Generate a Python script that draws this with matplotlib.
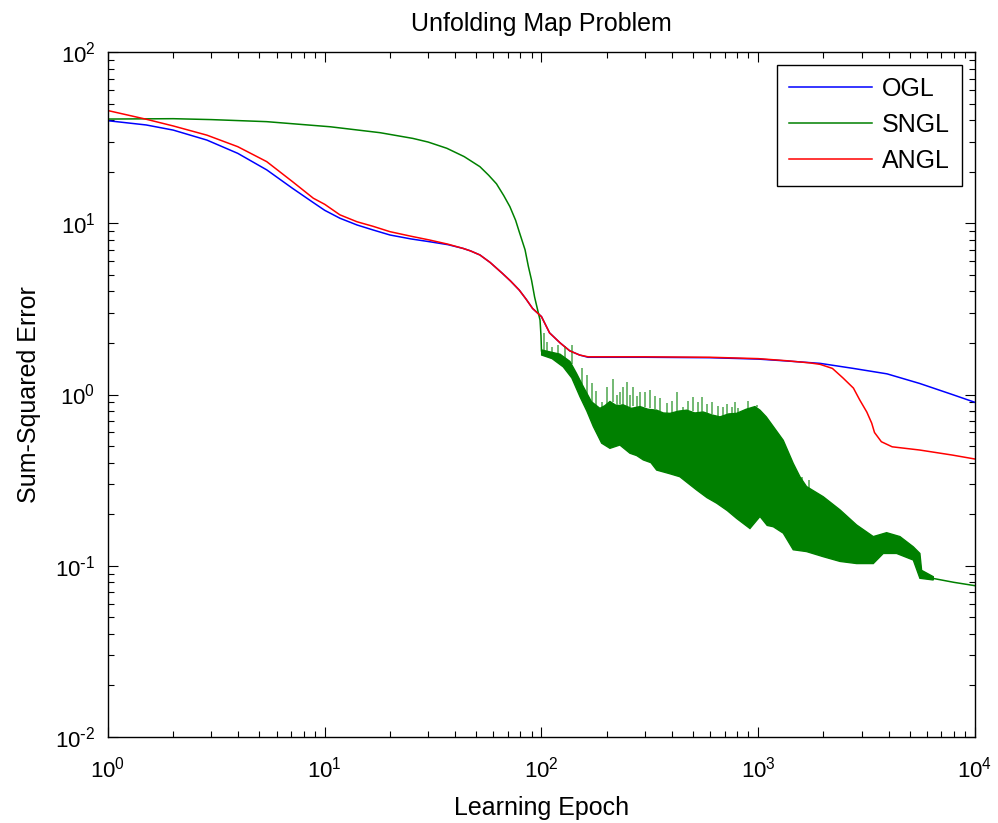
import numpy as np
from matplotlib import pyplot as plt
from matplotlib.ticker import FuncFormatter

# OGL (blue)
ogl_x = [1, 1.5, 2, 2.86, 3.97, 5.4, 7.1, 8.86, 10, 11.75, 14.1, 16.7, 20, 25, 30.5, 37, 43.5,
         47, 52, 58, 66, 72, 79, 85, 91, 100,
         109, 122, 135, 150, 164, 300, 600, 1000, 1350, 1930, 2750, 3930, 5560, 7860, 10000]
ogl_y = [39.7, 37.5, 35.0, 30.6, 25.6, 20.5, 16.0, 13.2, 11.9, 10.7, 9.77, 9.14, 8.54, 8.1, 7.8, 7.5, 7.13,
         6.9, 6.53, 5.9, 5.1, 4.6, 4.07, 3.6, 3.18, 2.85,
         2.29, 2.0, 1.80, 1.70, 1.65, 1.65, 1.64, 1.61, 1.57, 1.52, 1.42, 1.32, 1.16, 1.0, 0.90]

# ANGL (red)
angl_x = [1, 1.5, 2, 2.86, 3.97, 5.4, 7.1, 8.86, 10, 11.75, 14.1, 16.7, 20, 25, 30.5, 37, 43.5,
          47, 52, 58, 66, 72, 79, 85, 91, 100,
          109, 122, 135, 150, 164, 300, 600, 1000, 1350, 1730, 1930, 2200, 2460, 2750, 2940,
          3170, 3340, 3440, 3700, 4150, 5560, 7860, 10000]
angl_y = [45.5, 40.5, 37.0, 32.7, 28.0, 22.9, 17.5, 14.0, 12.9, 11.2, 10.2, 9.6, 8.93, 8.4, 7.98, 7.55, 7.13,
          6.9, 6.53, 5.9, 5.1, 4.6, 4.07, 3.6, 3.18, 2.85,
          2.29, 2.0, 1.80, 1.70, 1.66, 1.66, 1.65, 1.62, 1.575, 1.53, 1.50, 1.42, 1.25, 1.09, 0.93,
          0.79, 0.68, 0.60, 0.53, 0.495, 0.474, 0.443, 0.42]

# SNGL (green): smooth start, noisy band, tail
sngl_x = [1, 2, 3, 5.4, 10.6, 18, 25.5, 30, 36.6, 44, 52, 57, 62, 67, 71.5, 76, 79, 84, 87, 90, 93,
          95, 98.5, 99.5, 100]
sngl_y = [40.6, 40.8, 40.3, 39.2, 36.6, 33.8, 31.3, 29.8, 27.4, 24.5, 21.4, 19.1, 17.0, 14.5, 12.5, 10.4,
          8.9, 7.0, 5.6, 4.65, 3.7, 3.3, 2.72, 2.2, 1.8]

band_up_x = [100.2, 108, 121.7, 135.3, 145, 156, 170, 186, 196, 207, 222, 238, 260, 285, 310, 340, 365,
             392, 430, 468, 510, 558, 610, 666, 730, 795, 880, 966, 1019, 1090, 1174, 1305, 1451, 1560,
             1671, 1995, 2384, 2845, 3396, 3913, 4508, 5194, 5572, 5675, 6425]
band_up_y = [1.82, 1.78, 1.72, 1.56, 1.33, 1.11, 0.908, 0.83, 0.86, 0.91, 0.86, 0.87, 0.83, 0.85, 0.82,
             0.81, 0.78, 0.776, 0.8, 0.81, 0.78, 0.79, 0.76, 0.74, 0.77, 0.776, 0.82, 0.85, 0.81, 0.74,
             0.65, 0.54, 0.396, 0.33, 0.29, 0.253, 0.212, 0.173, 0.148, 0.156, 0.148, 0.129, 0.118,
             0.094, 0.0863]
band_lo_x = [100.2, 112, 126, 138, 150.6, 162, 173.5, 189.5, 207, 230, 256, 275, 295, 320, 340, 390,
             435, 480, 520, 580, 643, 720, 795, 916, 1019, 1100, 1174, 1305, 1451, 1671, 1995, 2384,
             2845, 3396, 3776, 4350, 5194, 5572, 6425]
band_lo_y = [1.70, 1.62, 1.45, 1.25, 0.97, 0.8, 0.65, 0.52, 0.485, 0.507, 0.454, 0.44, 0.415, 0.40, 0.362,
             0.345, 0.331, 0.30, 0.277, 0.25, 0.232, 0.21, 0.189, 0.165, 0.194, 0.172, 0.169, 0.155,
             0.124, 0.121, 0.113, 0.106, 0.103, 0.103, 0.118, 0.118, 0.108, 0.0845, 0.0826]
tail_x = [6425, 8000, 10000]
tail_y = [0.0843, 0.080, 0.0765]

# thin spikes sticking out of the band
spk_x = [103, 105.6, 112, 119.6, 128, 138, 153.3, 162, 170.4, 178, 189.5, 200, 214.5, 222, 230, 238,
         247, 256, 265, 275, 285, 300, 317, 335, 352, 378, 400, 420, 451, 475, 501, 525, 548, 580,
         610, 650, 690, 720, 754, 780, 809, 900, 984, 1592, 1720]
spk_top = [2.3, 2.03, 1.9, 1.94, 1.92, 1.94, 1.42, 1.3, 1.16, 1.05, 0.908, 1.1, 1.24, 1.0, 1.04, 1.1,
           1.19, 1.0, 1.11, 0.98, 1.04, 1.04, 1.06, 0.98, 0.95, 0.89, 0.92, 1.04, 0.85, 0.92, 0.97,
           0.9, 0.97, 0.88, 0.91, 0.86, 0.85, 0.88, 0.85, 0.9, 0.83, 0.92, 0.87, 0.33, 0.317]
spk_base = [1.8, 1.78, 1.76, 1.72, 1.62, 1.5, 1.15, 1.0, 0.91, 0.85, 0.83, 0.88, 0.9, 0.86, 0.88, 0.87,
            0.86, 0.84, 0.86, 0.84, 0.85, 0.84, 0.83, 0.82, 0.8, 0.78, 0.78, 0.79, 0.8, 0.81, 0.8, 0.79,
            0.79, 0.78, 0.77, 0.75, 0.75, 0.76, 0.76, 0.77, 0.78, 0.82, 0.84, 0.28, 0.26]

plt.rcParams['font.family'] = ['Liberation Sans', 'DejaVu Sans']
plt.rcParams['mathtext.default'] = 'regular'

green = (0, 0.5, 0)


def log_label(v, pos):
    e = int(round(np.log10(v)))
    if e < 0:
        return r'$10^{\text{-}%d}$' % (-e)
    return r'$10^{%d}$' % e


fig = plt.figure(figsize=(9.98, 8.23), dpi=100)
ax = fig.add_axes([0.1082, 0.1045, 0.8687, 0.8323])

ax.plot(ogl_x, ogl_y, color='blue', lw=1.1, label='OGL')
ax.plot(sngl_x, sngl_y, color=green, lw=1.1, label='SNGL')
ax.vlines(spk_x, spk_base, spk_top, color=green, lw=1.4, alpha=0.55)
ax.fill(band_up_x + band_lo_x[::-1], band_up_y + band_lo_y[::-1],
        facecolor=green, edgecolor=green, lw=1.0)
ax.plot(tail_x, tail_y, color=green, lw=1.1)
ax.plot(angl_x, angl_y, color='red', lw=1.1, label='ANGL')

ax.set_xscale('log')
ax.set_yscale('log')
ax.set_xlim(1, 1e4)
ax.set_ylim(1e-2, 1e2)
ax.xaxis.set_major_formatter(FuncFormatter(log_label))
ax.yaxis.set_major_formatter(FuncFormatter(log_label))

ax.tick_params(which='both', direction='in', top=True, right=True, labelsize=16)
ax.tick_params(axis='x', which='major', pad=14)
ax.tick_params(axis='y', which='major', pad=9)
ax.tick_params(which='major', length=7.2, width=0.8)
ax.tick_params(which='minor', length=4.3, width=0.8)
for s in ax.spines.values():
    s.set_linewidth(1.0)

ax.set_title('Unfolding Map Problem', fontsize=18, pad=15)
ax.set_xlabel('Learning Epoch', fontsize=18, labelpad=10)
ax.set_ylabel('Sum-Squared Error', fontsize=18, labelpad=10)

leg = ax.legend(loc='upper right', fontsize=18, fancybox=False, framealpha=1,
                edgecolor='black', handlelength=3.3, handletextpad=0.4,
                labelspacing=0.48, borderaxespad=0.5, borderpad=0.5)
leg.get_frame().set_linewidth(1.0)

plt.savefig('out.png')
